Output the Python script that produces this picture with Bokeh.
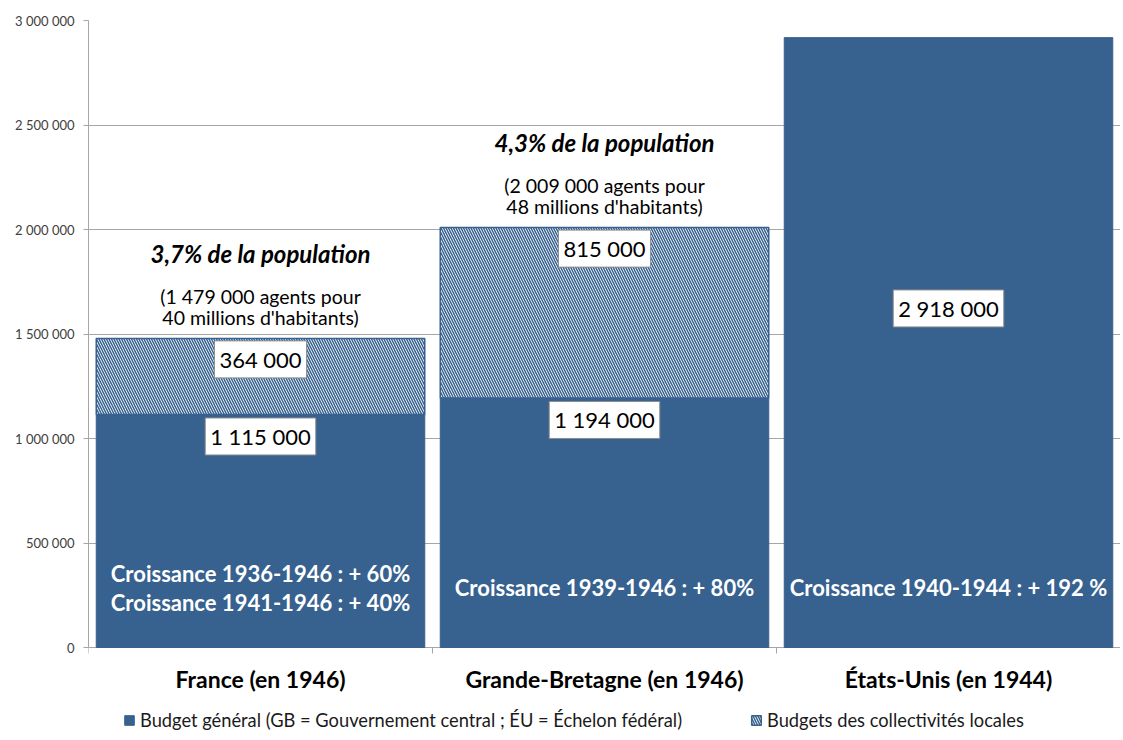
from bokeh.plotting import figure
from bokeh.models import (ColumnDataSource, Range1d, FixedTicker, Legend, LegendItem, Label)
from bokeh.core.properties import value
from bokeh.embed import file_html
from bokeh.resources import INLINE

# ---------------- data ----------------
countries = ["France (en 1946)", "Grande-Bretagne (en 1946)", "États-Unis (en 1944)"]
budget_general = [1115000, 1194000, 2918000]
budget_local = [364000, 815000, 0]
general_labels = ["1 115 000", "1 194 000", "2 918 000"]
local_labels = ["364 000", "815 000", ""]
y_ticks = [0, 500000, 1000000, 1500000, 2000000, 2500000, 3000000]
y_tick_labels = ["0", "500 000", "1 000 000", "1 500 000", "2 000 000", "2 500 000", "3 000 000"]
share_titles = ["3,7% de la population", "4,3% de la population"]
share_line1 = ["(1 479 000 agents pour", "(2 009 000 agents pour"]
share_line2 = ["40 millions d'habitants)", "48 millions d'habitants)"]
growth_lines = [["Croissance 1936-1946 : + 60%", "Croissance 1941-1946 : + 40%"],
                ["Croissance 1939-1946 : + 80%"],
                ["Croissance 1940-1944 : + 192 %"]]
legend_labels = ["Budget général (GB = Gouvernement central ; ÉU = Échelon fédéral)",
                 "Budgets des collectivités locales"]

# ---------------- style / layout ----------------
FONT = "Lato"
BLUE = "#37618F"
GRID = "#A6A6A6"

Y_MAX = y_ticks[-1]
PLOT_PX = 627           # pixels between 0 and Y_MAX
BELOW_PX = 93           # pixels kept under the zero line for category names + legend
units_per_px = Y_MAX / PLOT_PX
y_min = -BELOW_PX * units_per_px

xs = [i + 0.5 for i in range(len(countries))]
bounds_x = [float(i) for i in range(len(countries) + 1)]
tops = [g + l for g, l in zip(budget_general, budget_local)]
has_local = [l > 0 for l in budget_local]

p = figure(width=1120, height=740, output_backend="svg", toolbar_location=None,
           x_range=Range1d(0, len(countries)), y_range=Range1d(y_min, Y_MAX),
           x_axis_location=None,
           min_border_left=88, min_border_top=20, min_border_right=0, min_border_bottom=0)
p.outline_line_color = None
p.background_fill_color = "white"
p.border_fill_color = "white"

src = ColumnDataSource(dict(x=xs, gen=budget_general))
r_gen = p.vbar(x="x", width=0.955, top="gen", bottom=0, source=src,
               fill_color=BLUE, line_color=BLUE, line_width=1)

loc_src = ColumnDataSource(dict(
    x=[x for x, h in zip(xs, has_local) if h],
    bottom=[g for g, h in zip(budget_general, has_local) if h],
    top=[t for t, h in zip(tops, has_local) if h]))
r_loc = p.vbar(x="x", width=0.955, top="top", bottom="bottom", source=loc_src,
               fill_color="white", line_color=BLUE, line_width=1.5,
               hatch_pattern="\\", hatch_color=BLUE, hatch_scale=5, hatch_weight=1.5)

# y axis (limited to the data part of the frame)
p.yaxis.ticker = FixedTicker(ticks=y_ticks)
p.yaxis.bounds = (0, Y_MAX)
p.yaxis.major_label_overrides = {t: s for t, s in zip(y_ticks, y_tick_labels)}
p.yaxis.major_label_text_font = FONT
p.yaxis.major_label_text_font_size = "13px"
p.yaxis.major_label_text_color = "#404040"
p.yaxis.axis_line_color = GRID
p.yaxis.major_tick_line_color = GRID
p.yaxis.major_tick_out = 5
p.yaxis.major_tick_in = 0
p.yaxis.minor_tick_line_color = None
p.yaxis.major_label_standoff = 9

p.xgrid.grid_line_color = None
p.ygrid.ticker = FixedTicker(ticks=y_ticks)
p.ygrid.grid_line_color = GRID
p.ygrid.grid_line_width = 1

# category separators (small ticks under the baseline) and category names
p.segment(x0=bounds_x, x1=bounds_x, y0=[0] * len(bounds_x),
          y1=[-6 * units_per_px] * len(bounds_x), line_color=GRID, line_width=1)
p.text(x=xs, y=[0] * len(xs), text=countries, y_offset=31,
       text_font=value(FONT), text_font_style="bold", text_font_size="23px",
       text_color="black", text_align="center", text_baseline="middle")

# value labels (white boxes)
box_kw = dict(text_font=FONT, text_font_size="22px", text_color="black",
              text_align="center", text_baseline="middle",
              background_fill_color="white", border_line_color="#8C8C8C",
              border_line_width=1, padding=5)
for x, g, t, h, gl, ll in zip(xs, budget_general, tops, has_local, general_labels, local_labels):
    if h:
        p.add_layout(Label(x=x, y=g, y_offset=-22, text=gl, **box_kw))
        p.add_layout(Label(x=x, y=t, y_offset=-21, text=ll, **box_kw))
    else:
        p.add_layout(Label(x=x, y=g * 0.556, text=gl, **box_kw))

# share annotations above stacked bars
share_src = ColumnDataSource(dict(
    x=[x for x, h in zip(xs, has_local) if h],
    y=[t for t, h in zip(tops, has_local) if h],
    t=share_titles, a=share_line1, b=share_line2))
p.text(x="x", y="y", text="t", source=share_src, y_offset=-85,
       text_font=value(FONT), text_font_style="bold italic", text_font_size="24px",
       text_color="black", text_align="center", text_baseline="middle")
p.text(x="x", y="y", text="a", source=share_src, y_offset=-42,
       text_font=value(FONT), text_font_size="19.5px",
       text_color="black", text_align="center", text_baseline="middle")
p.text(x="x", y="y", text="b", source=share_src, y_offset=-21,
       text_font=value(FONT), text_font_size="19.5px",
       text_color="black", text_align="center", text_baseline="middle")

# growth texts inside the bars
growth_y = 285000
gx, gt, goff = [], [], []
for x, lines in zip(xs, growth_lines):
    n = len(lines)
    for k, line in enumerate(lines):
        gx.append(x)
        gt.append(line)
        goff.append((k - (n - 1) / 2) * 29)
p.text(x="x", y="y", text="t", y_offset="o",
       source=ColumnDataSource(dict(x=gx, y=[growth_y] * len(gx), t=gt, o=goff)),
       text_font=value(FONT), text_font_style="bold", text_font_size="22px",
       text_color="white", text_align="center", text_baseline="middle")

legend = Legend(items=[LegendItem(label=legend_labels[0], renderers=[r_gen]),
                       LegendItem(label=legend_labels[1], renderers=[r_loc])],
                orientation="horizontal", location=(35, 9),
                label_text_font=FONT, label_text_font_size="18.3px", label_text_color="#1A1A1A",
                glyph_width=12, glyph_height=12, spacing=68, label_standoff=5,
                padding=4, margin=0, border_line_color=None, background_fill_alpha=0)
p.add_layout(legend, "center")

open("out.html", "w").write(file_html(p, INLINE))
